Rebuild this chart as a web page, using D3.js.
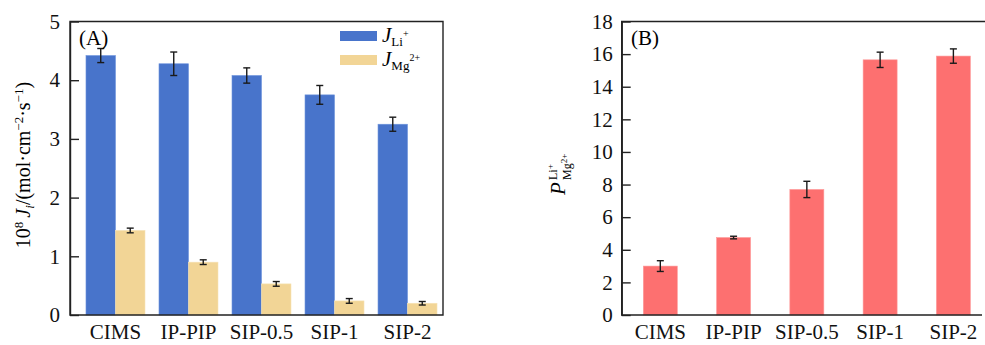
<!DOCTYPE html>
<html>
<head>
<meta charset="utf-8">
<script src="https://cdn.jsdelivr.net/npm/d3@7"></script>
<style>
  body { margin: 0; background: #fff; }
  svg { font-family: "Liberation Serif", "Times New Roman", serif; display: block; }
  .axis path, .axis line { stroke: #222; stroke-width: 1.4; }
  .axis text { font-size: 21px; fill: #111; font-family: "Liberation Serif", serif; }
</style>
</head>
<body>
<div id="chart"></div>
<script>
// data
const categories = ['CIMS', 'IP-PIP', 'SIP-0.5', 'SIP-1', 'SIP-2'];
const jLi = [4.42, 4.28, 4.08, 3.75, 3.25];
const jLiErr = [0.12, 0.2, 0.13, 0.16, 0.12];
const jMg = [1.44, 0.9, 0.53, 0.24, 0.2];
const jMgErr = [0.04, 0.04, 0.04, 0.04, 0.03];
const perm = [3.0, 4.75, 7.7, 15.65, 15.88];
const permErr = [0.33, 0.08, 0.5, 0.47, 0.44];
const leftTicks = [0, 1, 2, 3, 4, 5];
const rightTicks = [0, 2, 4, 6, 8, 10, 12, 14, 16, 18];

const colorLi = '#4874cb',
    colorMg = '#f2d596',
    colorP = '#fd7070';

let width = 985, height = 345;
let svg = d3.select('#chart').append('svg')
    .attr('width', width)
    .attr('height', height);

let yTop = 21.5, yBottom = 315;

// ---------- panel A ----------
let aLeft = 70, aRight = 443;

let xA = d3.scaleBand()
    .domain(categories)
    .range([aLeft, 453])
    .paddingInner(0.192)
    .paddingOuter(0.219);

let xSub = d3.scaleBand()
    .domain(['li', 'mg'])
    .range([0, xA.bandwidth()]);

let yA = d3.scaleLinear()
    .domain([0, 5])
    .range([yBottom, yTop]);

let gA = svg.append('g');

let barsA = gA.append('g');
categories.forEach((c, i) => {
    barsA.append('rect')
        .attr('x', xA(c) + xSub('li'))
        .attr('y', yA(jLi[i]))
        .attr('width', xSub.bandwidth())
        .attr('height', yA(0) - yA(jLi[i]))
        .attr('fill', colorLi)
        .attr('stroke', '#6d93dc')
        .attr('stroke-width', 0.6);
    barsA.append('rect')
        .attr('x', xA(c) + xSub('mg'))
        .attr('y', yA(jMg[i]))
        .attr('width', xSub.bandwidth())
        .attr('height', yA(0) - yA(jMg[i]))
        .attr('fill', colorMg)
        .attr('stroke', '#f6e2b4')
        .attr('stroke-width', 0.6);
});

function errorBar(g, cx, yScale, v, e) {
    let y1 = yScale(v + e), y2 = yScale(v - e);
    g.append('line').attr('x1', cx).attr('x2', cx).attr('y1', y1).attr('y2', y2);
    g.append('line').attr('x1', cx - 3.5).attr('x2', cx + 3.5).attr('y1', y1).attr('y2', y1);
    g.append('line').attr('x1', cx - 3.5).attr('x2', cx + 3.5).attr('y1', y2).attr('y2', y2);
}

let errA = gA.append('g').attr('stroke', '#1a1a1a').attr('stroke-width', 1.4);
categories.forEach((c, i) => {
    errorBar(errA, xA(c) + xSub('li') + xSub.bandwidth() / 2, yA, jLi[i], jLiErr[i]);
    errorBar(errA, xA(c) + xSub('mg') + xSub.bandwidth() / 2, yA, jMg[i], jMgErr[i]);
});

gA.append('g')
    .attr('class', 'axis')
    .attr('transform', `translate(${aLeft},0)`)
    .call(d3.axisLeft(yA).tickValues(leftTicks).tickSizeInner(-9).tickSizeOuter(0).tickPadding(10).tickFormat(d3.format('d')));

gA.append('g')
    .attr('class', 'axis')
    .attr('transform', `translate(0,${yBottom})`)
    .call(d3.axisBottom(xA).tickSize(0).tickPadding(9))
    .select('.domain').remove();

// frame
gA.append('path')
    .attr('d', `M${aLeft},${yTop}H${aRight}V${yBottom}H${aLeft}Z`)
    .attr('fill', 'none')
    .attr('stroke', '#222')
    .attr('stroke-width', 1.4);

gA.append('text')
    .attr('x', 79)
    .attr('y', 45)
    .style('font-size', '21px')
    .text('(A)');

// legend
let legend = [
    {color: colorLi, sub: 'Li', sup: '+'},
    {color: colorMg, sub: 'Mg', sup: '2+'}
];
legend.forEach((d, i) => {
    let ly = 36 + i * 24;
    gA.append('rect')
        .attr('x', 340).attr('y', ly - 5)
        .attr('width', 37).attr('height', 10)
        .attr('fill', d.color);
    let t = gA.append('text')
        .attr('x', 382).attr('y', ly + 6)
        .style('font-size', '21px');
    t.append('tspan').style('font-style', 'italic').text('J');
    t.append('tspan').attr('dy', 4).style('font-size', '13px').text(d.sub);
    t.append('tspan').attr('dy', -9).style('font-size', '10px').text(d.sup);
});

// y label A
let labA = gA.append('text')
    .attr('transform', 'translate(30,165) rotate(-90)')
    .attr('text-anchor', 'middle')
    .style('font-size', '20px');
labA.append('tspan').text('10');
labA.append('tspan').attr('dy', -7).style('font-size', '13px').text('8');
labA.append('tspan').attr('dy', 7).text('\u2009');
labA.append('tspan').style('font-style', 'italic').text('J');
labA.append('tspan').attr('dy', 4).style('font-size', '13px').style('font-style', 'italic').text('i');
labA.append('tspan').attr('dy', -4).text('/(mol\u00b7cm');
labA.append('tspan').attr('dy', -7).style('font-size', '13px').text('\u22122');
labA.append('tspan').attr('dy', 7).text('\u00b7s');
labA.append('tspan').attr('dy', -7).style('font-size', '13px').text('\u22121');
labA.append('tspan').attr('dy', 7).text(')');

// ---------- panel B ----------
let bLeft = 621.7, bRight = 985;

let xB = d3.scaleBand()
    .domain(categories)
    .range([bLeft, 992])
    .paddingInner(0.536)
    .paddingOuter(0.295);

let yB = d3.scaleLinear()
    .domain([0, 18])
    .range([yBottom, yTop]);

let gB = svg.append('g');

gB.append('g')
    .selectAll('rect')
    .data(categories)
    .join('rect')
    .attr('x', d => xB(d))
    .attr('y', (d, i) => yB(perm[i]))
    .attr('width', xB.bandwidth())
    .attr('height', (d, i) => yB(0) - yB(perm[i]))
    .attr('fill', colorP)
    .attr('stroke', '#fd9a9a')
    .attr('stroke-width', 0.6);

let errB = gB.append('g').attr('stroke', '#1a1a1a').attr('stroke-width', 1.4);
categories.forEach((c, i) => {
    errorBar(errB, xB(c) + xB.bandwidth() / 2, yB, perm[i], permErr[i]);
});

gB.append('g')
    .attr('class', 'axis')
    .attr('transform', `translate(${bLeft},0)`)
    .call(d3.axisLeft(yB).tickValues(rightTicks).tickSizeInner(-9).tickSizeOuter(0).tickPadding(9).tickFormat(d3.format('d')));

gB.append('g')
    .attr('class', 'axis')
    .attr('transform', `translate(0,${yBottom})`)
    .call(d3.axisBottom(xB).tickSize(0).tickPadding(9))
    .select('.domain').remove();

gB.append('path')
    .attr('d', `M${bRight},${yTop}H${bLeft}V${yBottom}H${bRight - 3}`)
    .attr('fill', 'none')
    .attr('stroke', '#222')
    .attr('stroke-width', 1.4);

gB.append('text')
    .attr('x', 631)
    .attr('y', 45)
    .style('font-size', '21px')
    .text('(B)');

// y label B
let labB = gB.append('g')
    .attr('transform', 'translate(565,195) rotate(-90)');
labB.append('text')
    .style('font-size', '21px')
    .style('font-style', 'italic')
    .text('P');
let supB = labB.append('text')
    .attr('x', 15).attr('y', -8)
    .style('font-size', '12px');
supB.append('tspan').text('Li');
supB.append('tspan').attr('dy', -4).style('font-size', '9px').text('+');
let subB = labB.append('text')
    .attr('x', 15).attr('y', 6)
    .style('font-size', '12px');
subB.append('tspan').text('Mg');
subB.append('tspan').attr('dy', -4).style('font-size', '9px').text('2+');
</script>
</body>
</html>
